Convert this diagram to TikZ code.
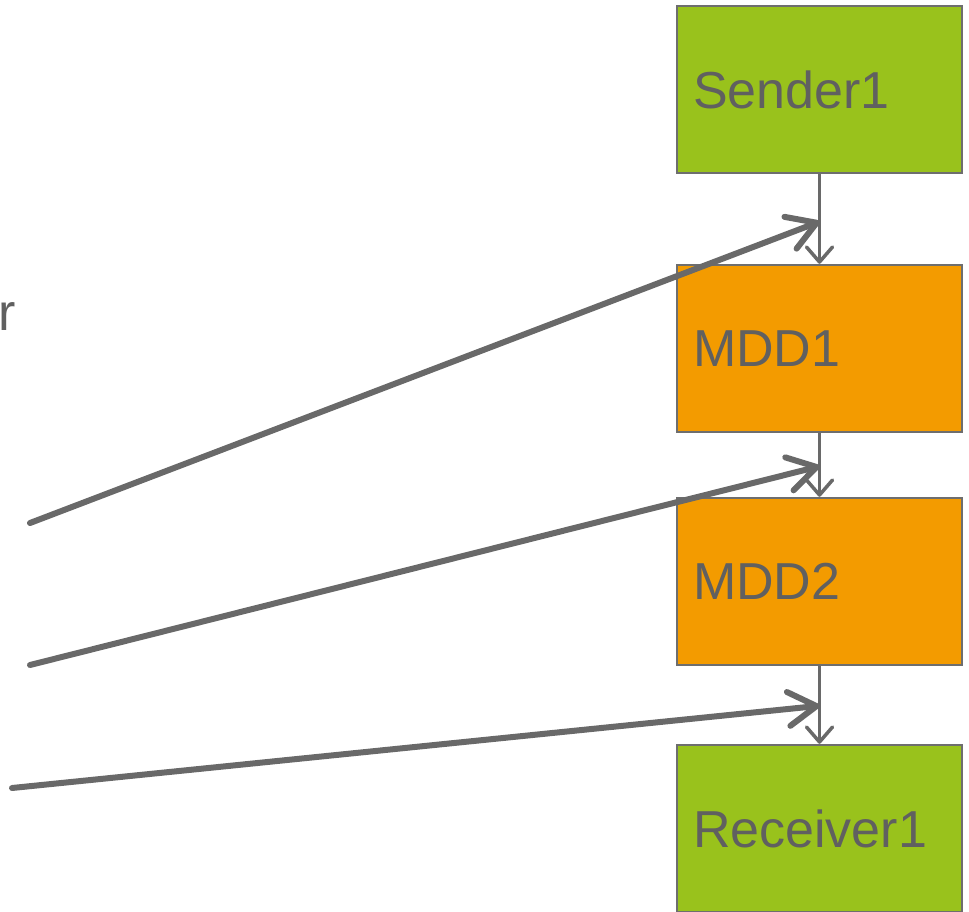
\documentclass[tikz,border=0pt]{standalone}
\usepackage{fontspec}
\setmainfont{Liberation Sans}
\usepackage{tikz}
\usetikzlibrary{arrows.meta, positioning, calc}
\definecolor{mygreen}{RGB}{153,194,28}
\definecolor{myorange}{RGB}{243,155,0}
\definecolor{myframe}{RGB}{110,110,110}
\definecolor{mytext}{RGB}{96,96,96}
\definecolor{myarrow}{RGB}{105,105,105}
\tikzset{
  stagebox/.style={rectangle, draw=myframe, line width=2.5pt,
    minimum width=285pt, minimum height=167pt, inner sep=16pt,
    text width=253pt, align=left, text=mytext,
    font=\fontsize{52}{60}\selectfont},
  greenbox/.style={stagebox, fill=mygreen},
  orangebox/.style={stagebox, fill=myorange},
  flow/.style={-{Straight Barb[length=15pt, width=26pt, line width=3.5pt, round]},
    line width=2.5pt, color=myarrow},
  pointer/.style={-{Straight Barb[length=28pt, width=34pt, round]},
    line width=6pt, line cap=round, color=myarrow}
}
\begin{document}
\begin{tikzpicture}[x=1pt, y=-1pt]
  \useasboundingbox (0,0) rectangle (969,911);
  % chain of stages
  \node[greenbox]  (sender)   at (819.5,89.5)  {Sender1};
  \node[orangebox] (mdd1)     at (819.5,348.5) {MDD1};
  \node[orangebox] (mdd2)     at (819.5,581.5) {MDD2};
  \node[greenbox]  (receiver) at (819.5,828.5) {Receiver1};
  \draw[flow] (sender) -- (mdd1);
  \draw[flow] (mdd1) -- (mdd2);
  \draw[flow] (mdd2) -- (receiver);

  % points on the links
  \coordinate (hit1) at ($(sender.south)!0.53!(mdd1.north)$);
  \coordinate (hit2) at ($(mdd1.south)!0.52!(mdd2.north)$);
  \coordinate (hit3) at ($(mdd2.south)!0.51!(receiver.north)$);

  % clipped label on the left
  \node[anchor=base west, inner sep=0pt, text=mytext,
    font=\fontsize{52}{60}\selectfont] (lefttext) at (-2,330) {r};

  % pointers from the left
  \coordinate (from1) at (30,523);
  \coordinate (from2) at (30,665);
  \coordinate (from3) at (12,788);
  \draw[pointer] (from1) -- (hit1);
  \draw[pointer] (from2) -- (hit2);
  \draw[pointer] (from3) -- (hit3);
\end{tikzpicture}
\end{document}
